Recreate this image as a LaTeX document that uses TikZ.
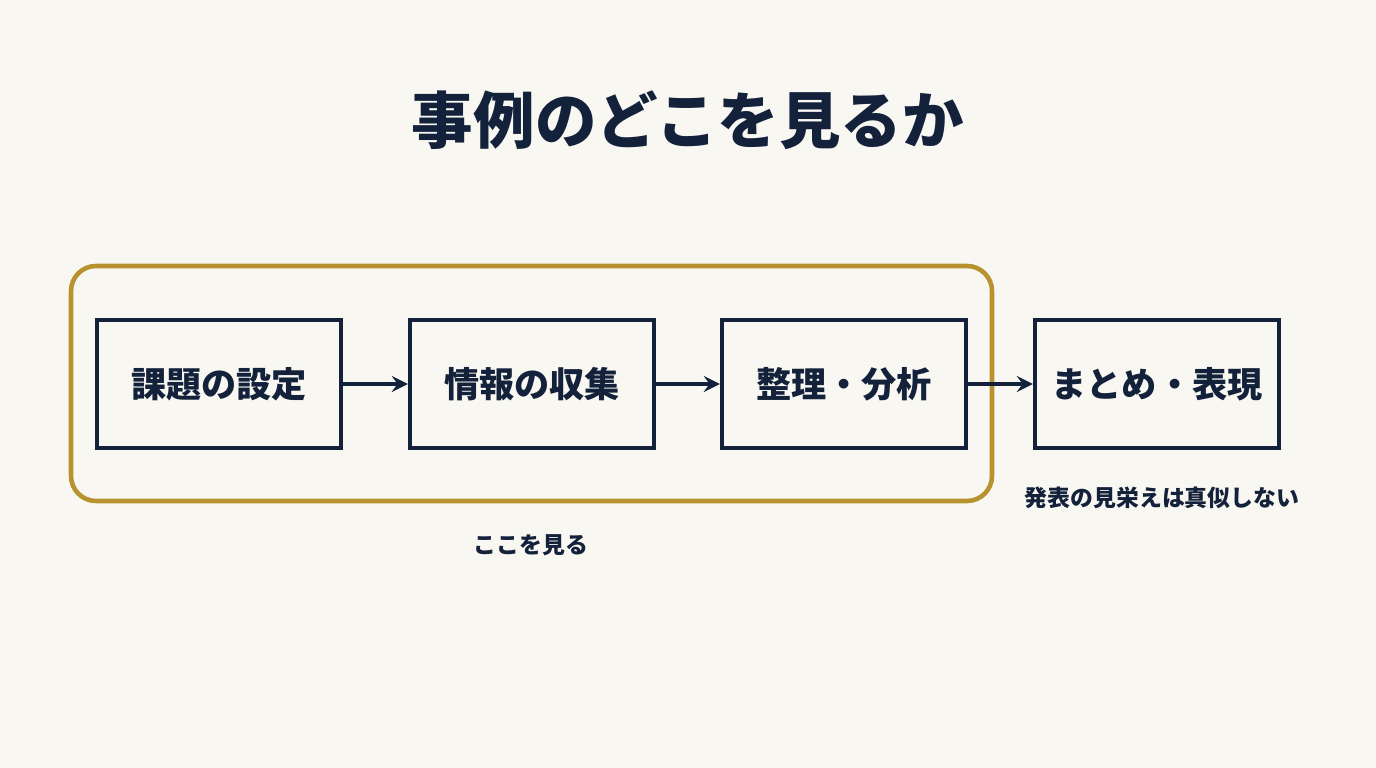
\documentclass[tikz,border=0pt]{standalone}
\usepackage{fontspec}
\setmainfont{Noto Sans CJK JP}
\usepackage{xcolor}
\usetikzlibrary{positioning}
\definecolor{navy}{HTML}{13213A}
\definecolor{gold}{HTML}{B8922F}
\definecolor{paper}{HTML}{F8F7F2}

\begin{document}
\begin{tikzpicture}[x=0.01cm,y=-0.01cm,>=stealth,
    step box/.style={draw=navy,line width=1.2pt,minimum width=2.44cm,minimum height=1.28cm,font=\fontsize{10}{12}\selectfont\bfseries,text=navy},
    flow/.style={->,draw=navy,line width=1pt}]

            \fill[paper] (0,0) rectangle (1376,768);
            \useasboundingbox (0,0) rectangle (1376,768);

            \node[font=\fontsize{17.5}{20}\selectfont\bfseries,text=navy] (title) at (688,120){事例のどこを見るか};

            \draw[gold,line width=1.3pt,rounded corners=0.25cm] (71,266) rectangle (992,501);

            \node[step box] (1) at (219,384){課題の設定};
            \node[step box] (2) at (532,384){情報の収集};
            \node[step box] (3) at (844,384){整理・分析};
            \node[step box] (4) at (1157,384){まとめ・表現};

            \draw[flow] (1) to (2);
            \draw[flow] (2) to (3);
            \draw[flow] (3) to (4);

            \node[font=\fontsize{6.5}{8}\selectfont\bfseries,text=navy] (look) at (531,545){ここを見る};
            \node[font=\fontsize{6.5}{8}\selectfont\bfseries,text=navy] (skip) at (1162,498){発表の見栄えは真似しない};

            ;
        \end{tikzpicture}
\end{document}
